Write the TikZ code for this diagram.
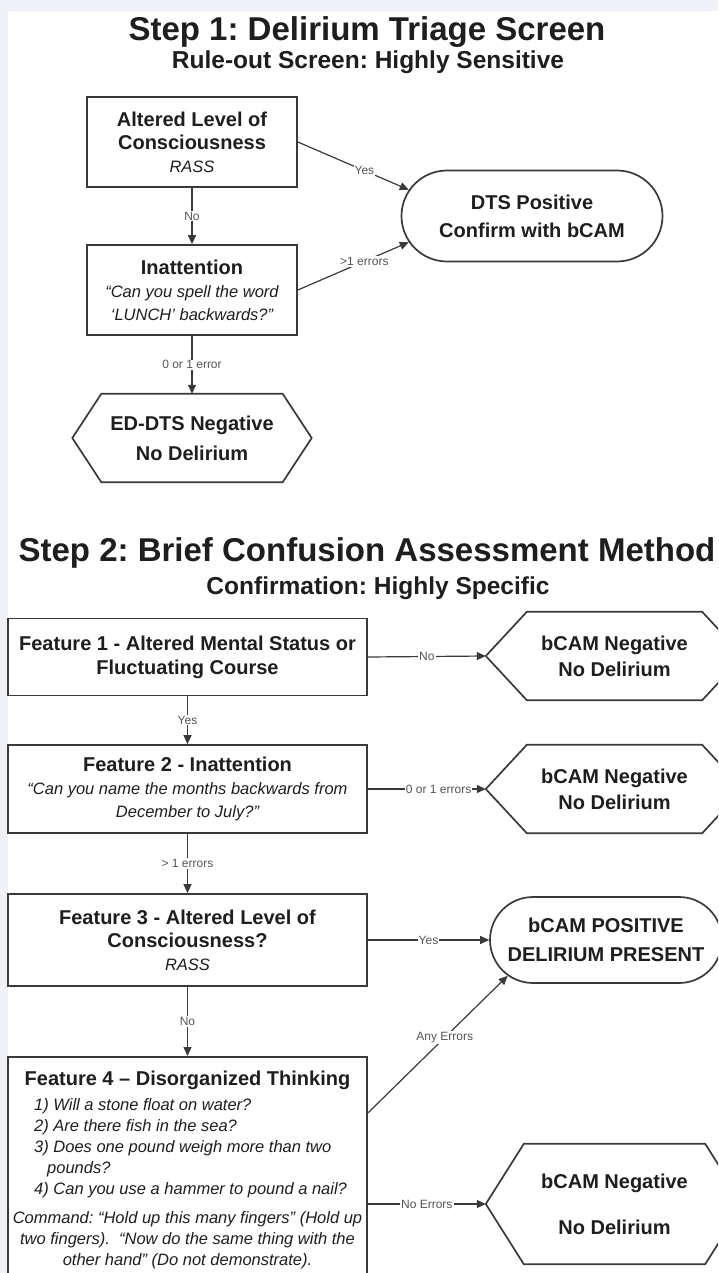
\documentclass[tikz,border=0pt]{standalone}
\usepackage{fontspec}
\setmainfont{Liberation Sans}
\usetikzlibrary{positioning, shapes.misc, arrows.meta, calc}
\frenchspacing

\definecolor{framegray}{HTML}{EFF1F6}
\definecolor{linegray}{HTML}{3A3A3A}
\definecolor{textgray}{HTML}{1E1E1E}
\definecolor{lblgray}{HTML}{555555}

\newcommand{\bfbox}{\fontsize{20}{23}\selectfont\bfseries}
\newcommand{\itbox}{\fontsize{16.5}{20}\selectfont\mdseries\itshape}
\newcommand{\hexframe}[2]{%
  \draw[hexline] (#1.west) -- ($(#1.north west)+(#2,0)$) -- ($(#1.north east)+(-#2,0)$)
    -- (#1.east) -- ($(#1.south east)+(-#2,0)$) -- ($(#1.south west)+(#2,0)$) -- cycle;}

\tikzset{
  stepbox/.style={draw=linegray, line width=1.7pt, fill=white, align=center, text=textgray,
    font=\bfbox, minimum width=210pt, minimum height=90pt, inner sep=0pt},
  featbox/.style={stepbox, minimum width=359pt},
  pill/.style={rounded rectangle, draw=linegray, line width=1.7pt, align=center, text=textgray,
    inner sep=0pt},
  hexbox/.style={align=center, text=textgray, inner sep=0pt},
  hexline/.style={draw=linegray, line width=1.7pt},
  lbl/.style={fill=white, inner sep=1pt, text=lblgray, font=\fontsize{12}{12}\selectfont},
  flow/.style={draw=linegray, line width=1.2pt, -{Triangle[length=9pt,width=8pt]}},
  qline/.style={font=\itbox, text=textgray, inner sep=0pt},
}

\begin{document}
\begin{tikzpicture}[x=1pt,y=-1pt]
\useasboundingbox (0,0) rectangle (718,1273);
\clip (0,0) rectangle (718,1273);
\fill[framegray] (0,0) rectangle (718,1273);
\fill[white] (8,11) rectangle (718,1273);

% step 1
\node[font=\fontsize{33}{33}\selectfont\bfseries, text=textgray] (title1) at (367,32) {Step 1: Delirium Triage Screen};
\node[font=\fontsize{24.5}{24.5}\selectfont\bfseries, text=textgray] (sub1) at (368,62) {Rule-out Screen: Highly Sensitive};

\node[stepbox] (loc) at (192,142) {Altered Level of\\Consciousness\\{\itbox RASS}};
\node[stepbox] (inat) at (192,290) {Inattention\\{\itbox ``Can you spell the word}\\{\itbox `LUNCH' backwards?''}};
\node[pill, font=\fontsize{20}{28}\selectfont\bfseries, minimum width=261pt, minimum height=91pt] (dtspos) at (532,216) {DTS Positive\\Confirm with bCAM};
\node[hexbox, font=\fontsize{20}{30}\selectfont\bfseries, minimum width=239pt, minimum height=88pt] (dtsneg) at (192,438) {ED-DTS Negative\\No Delirium};
\hexframe{dtsneg}{29}

\draw[flow] (loc.south) -- node[lbl] {No} (inat.north);
\draw[flow] (loc.east) -- node[lbl, pos=0.6] {Yes} (dtspos.168);
\draw[flow] (inat.east) -- node[lbl, pos=0.6] {>1 errors} (dtspos.192);
\draw[flow] (inat.south) -- node[lbl] {0 or 1 error} (dtsneg.north);

% step 2
\node[font=\fontsize{33}{33}\selectfont\bfseries, text=textgray] (title2) at (367,553) {Step 2: Brief Confusion Assessment Method};
\node[font=\fontsize{24.5}{24.5}\selectfont\bfseries, text=textgray] (sub2) at (378,588) {Confirmation: Highly Specific};

\node[featbox, minimum height=77pt, font=\fontsize{20}{24}\selectfont\bfseries] (feat1) at (187.5,657) {Feature 1 - Altered Mental Status or\\Fluctuating Course};
\node[featbox, minimum height=88pt] (feat2) at (187.5,789) {Feature 2 - Inattention\\{\itbox ``Can you name the months backwards from}\\{\itbox December to July?''}};
\node[featbox, minimum height=92pt] (feat3) at (187.5,940) {Feature 3 - Altered Level of\\Consciousness?\\{\itbox RASS}};
\node[featbox, minimum height=250pt, anchor=north] (feat4) at (187.5,1056) {};

\node[font=\bfbox, text=textgray, inner sep=0pt] (f4head) at (187.5,1080) {Feature 4 -- Disorganized Thinking};
\node[qline, anchor=west] (q1) at (34,1106) {1) Will a stone float on water?};
\node[qline, anchor=west] (q2) at (34,1127) {2) Are there fish in the sea?};
\node[qline, anchor=west] (q3) at (34,1148) {3) Does one pound weigh more than two};
\node[qline, anchor=west] (q3b) at (47,1169) {pounds?};
\node[qline, anchor=west] (q4) at (34,1190) {4) Can you use a hammer to pound a nail?};
\node[qline] (cmd1) at (187.5,1219) {Command: ``Hold up this many fingers'' (Hold up};
\node[qline] (cmd2) at (187.5,1240) {two fingers).\ \ ``Now do the same thing with the};
\node[qline] (cmd3) at (187.5,1261) {other hand'' (Do not demonstrate).};

\node[hexbox, font=\fontsize{20}{26}\selectfont\bfseries, minimum width=257pt, minimum height=88pt] (neg1) at (614.5,656) {bCAM Negative\\No Delirium};
\hexframe{neg1}{41}
\node[hexbox, font=\fontsize{20}{26}\selectfont\bfseries, minimum width=257pt, minimum height=88pt] (neg2) at (614.5,789) {bCAM Negative\\No Delirium};
\hexframe{neg2}{41}
\node[pill, font=\fontsize{20}{29}\selectfont\bfseries, minimum width=232pt, minimum height=86pt] (pos) at (606,940) {bCAM POSITIVE\\DELIRIUM PRESENT};
\node[hexbox, font=\fontsize{20}{46}\selectfont\bfseries, minimum width=257pt, minimum height=120pt] (neg3) at (614.5,1204) {bCAM Negative\\No Delirium};
\hexframe{neg3}{38}

\coordinate (f4out) at ($(feat4.north east)+(0,57)$);
\draw[flow] (feat1.east) -- node[lbl] {No} (neg1.west);
\draw[flow] (feat1.south) -- node[lbl] {Yes} (feat2.north);
\draw[flow] (feat2.east) -- node[lbl, pos=0.6] {0 or 1 errors} (neg2.west);
\draw[flow] (feat2.south) -- node[lbl] {> 1 errors} (feat3.north);
\draw[flow] (feat3.east) -- node[lbl] {Yes} (pos.west);
\draw[flow] (feat3.south) -- node[lbl] {No} (feat4.north);
\draw[flow] (f4out) -- node[lbl, pos=0.55] {Any Errors} (pos.200);
\draw[flow] (neg3.west -| feat4.east) -- node[lbl] {No Errors} (neg3.west);

\end{tikzpicture}
\end{document}
